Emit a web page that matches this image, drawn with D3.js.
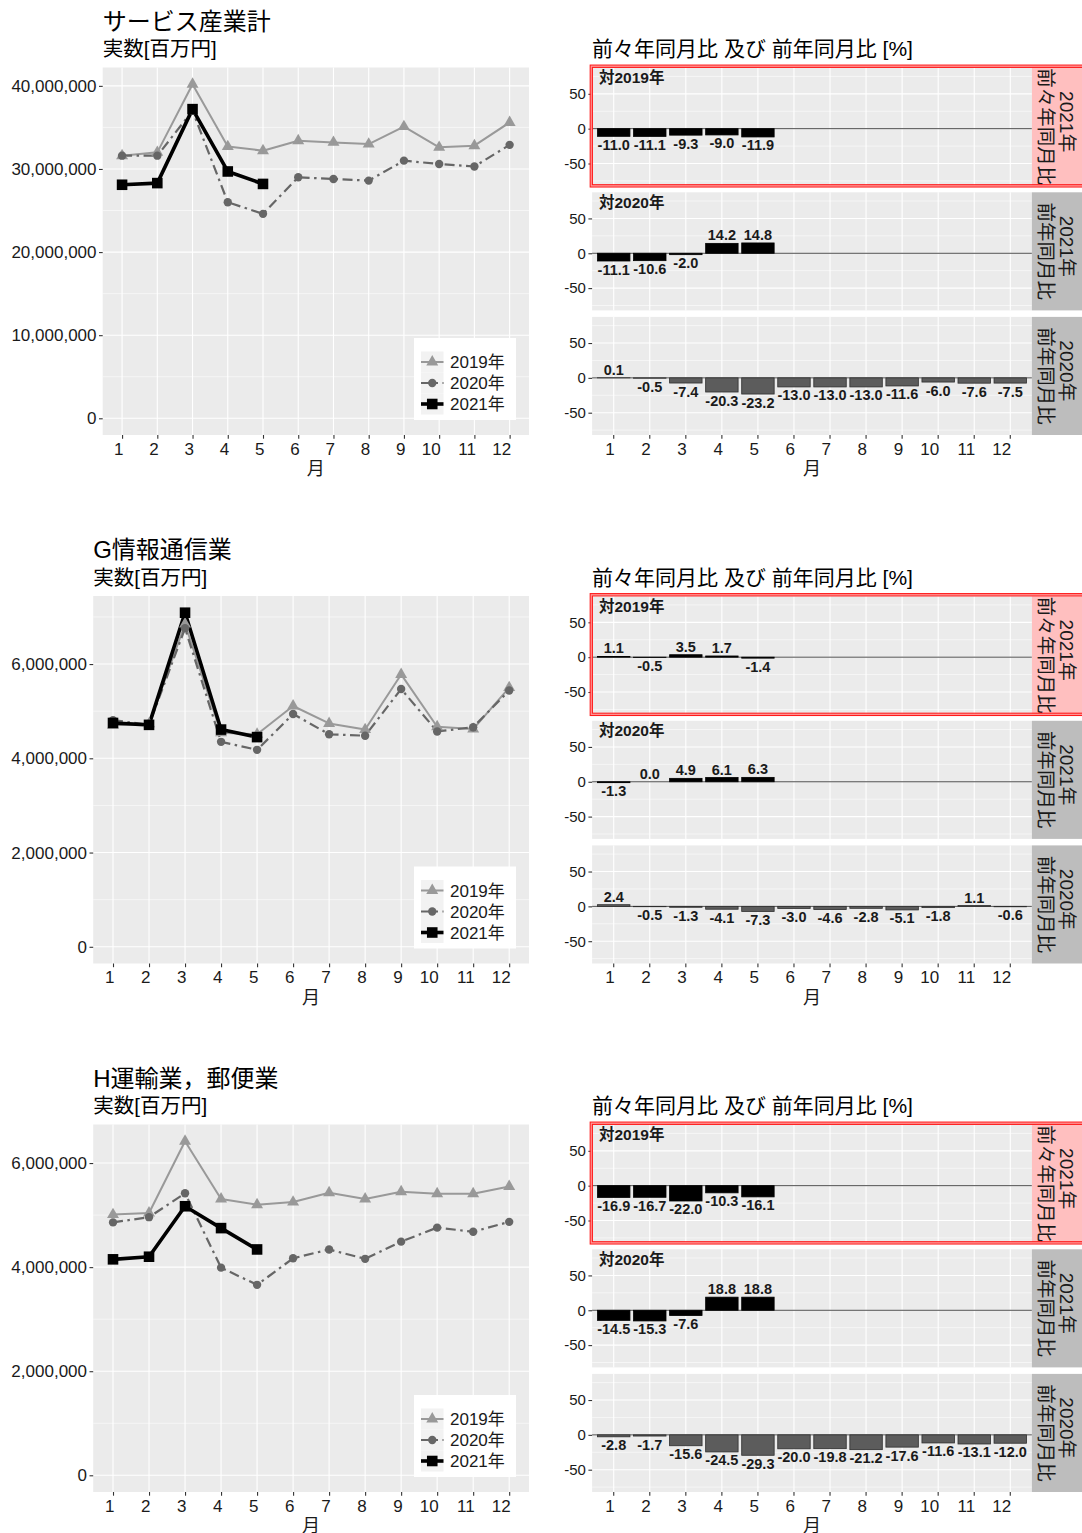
<!DOCTYPE html>
<html lang="ja">
<head>
<meta charset="utf-8">
<title>サービス産業 月次</title>
<script src="https://cdn.jsdelivr.net/npm/d3@7"></script>
<style>
  body { margin: 0; background: #fff; }
  svg { display: block; }
  text { font-family: "Liberation Sans", Arial, "Noto Sans CJK JP", sans-serif; }
</style>
</head>
<body>
<script>
var W = 1082, H = 1533;

var months = [1, 2, 3, 4, 5, 6, 7, 8, 9, 10, 11, 12];
var yearNames = ["2019年", "2020年", "2021年"];
var sectorNames = ["サービス産業計", "G情報通信業", "H運輸業，郵便業"];

// 実数[百万円]
var svc2019 = [31600000, 32000000, 40200000, 32700000, 32200000, 33400000, 33200000, 33000000, 35100000, 32600000, 32800000, 35600000];
var svc2020 = [31600000, 31600000, 37000000, 26000000, 24600000, 29000000, 28800000, 28600000, 31000000, 30600000, 30300000, 32900000];
var svc2021 = [28100000, 28300000, 37200000, 29700000, 28200000];

var ict2019 = [4700000, 4730000, 6850000, 4540000, 4510000, 5110000, 4740000, 4610000, 5780000, 4670000, 4620000, 5500000];
var ict2020 = [4810000, 4710000, 6760000, 4350000, 4180000, 4940000, 4510000, 4480000, 5470000, 4570000, 4660000, 5440000];
var ict2021 = [4750000, 4710000, 7090000, 4610000, 4450000];

var trn2019 = [5010000, 5040000, 6420000, 5310000, 5200000, 5250000, 5430000, 5310000, 5450000, 5410000, 5410000, 5550000];
var trn2020 = [4860000, 4960000, 5420000, 3990000, 3660000, 4170000, 4340000, 4160000, 4490000, 4760000, 4680000, 4870000];
var trn2021 = [4150000, 4200000, 5170000, 4750000, 4340000];

// 前々年同月比 / 前年同月比 [%]
var svcVs2019 = [-11.0, -11.1, -9.3, -9.0, -11.9];
var svcVs2020 = [-11.1, -10.6, -2.0, 14.2, 14.8];
var svcYoy2020 = [0.1, -0.5, -7.4, -20.3, -23.2, -13.0, -13.0, -13.0, -11.6, -6.0, -7.6, -7.5];

var ictVs2019 = [1.1, -0.5, 3.5, 1.7, -1.4];
var ictVs2020 = [-1.3, 0.0, 4.9, 6.1, 6.3];
var ictYoy2020 = [2.4, -0.5, -1.3, -4.1, -7.3, -3.0, -4.6, -2.8, -5.1, -1.8, 1.1, -0.6];

var trnVs2019 = [-16.9, -16.7, -22.0, -10.3, -16.1];
var trnVs2020 = [-14.5, -15.3, -7.6, 18.8, 18.8];
var trnYoy2020 = [-2.8, -1.7, -15.6, -24.5, -29.3, -20.0, -19.8, -21.2, -17.6, -11.6, -13.1, -12.0];

// tick labels
var svcTicks = [0, 10000000, 20000000, 30000000, 40000000];
var ictTicks = [0, 2000000, 4000000, 6000000];
var trnTicks = [0, 2000000, 4000000, 6000000];
var pctTicks = [-50, 0, 50];
var pctMinor = [-75, -25, 25, 75];

var stripYear = ["2021年", "2021年", "2020年"];
var stripKind = ["前々年同月比", "前年同月比", "前年同月比"];
var panelTags = ["対2019年", "対2020年", ""];

var subTitle = "実数[百万円]";
var barTitle = "前々年同月比 及び 前年同月比 [%]";
var xTitle = "月";

// styles
var yearColors = ["#999999", "#666666", "#000000"];
var yearWidths = [2, 2.2, 3.6];
var yearDash = [null, "10,4.5,2.5,4.5", null];
var yearShapes = [d3.symbolTriangle, d3.symbolCircle, d3.symbolSquare];
var yearSizes = [62, 55, 112];

// plain hyphen for negatives, as in the original
var loc = d3.formatLocale({ decimal: ".", thousands: ",", grouping: [3], currency: ["", ""], minus: "-" });
var fmtBig = loc.format(",");
var fmtPct = loc.format(".1f");
var fmtInt = loc.format("d");

var sections = [
  { name: sectorNames[0], series: [svc2019, svc2020, svc2021], ticks: svcTicks, bars: [svcVs2019, svcVs2020, svcYoy2020] },
  { name: sectorNames[1], series: [ict2019, ict2020, ict2021], ticks: ictTicks, bars: [ictVs2019, ictVs2020, ictYoy2020] },
  { name: sectorNames[2], series: [trn2019, trn2020, trn2021], ticks: trnTicks, bars: [trnVs2019, trnVs2020, trnYoy2020] }
];
var offsets = [0, 528.5, 1057];
var lineLefts = [102.7, 93.2, 93.2];

var svg = d3.select("body").append("svg").attr("width", W).attr("height", H);

function styleAxis(g, size) {
    g.select(".domain").remove();
    g.selectAll(".tick line").attr("stroke", "#333").attr("stroke-width", 1.1);
    g.selectAll(".tick text").attr("fill", "#1a1a1a").style("font-size", size + "px");
}

function hline(g, vals, y, x1, x2, w) {
    g.append("g").selectAll("line").data(vals).enter().append("line")
     .attr("x1", x1).attr("x2", x2)
     .attr("y1", function (d) { return y(d); }).attr("y2", function (d) { return y(d); })
     .attr("stroke", "#fff").attr("stroke-width", w);
}

function drawSection(k) {
    var sec = sections[k];
    var off = offsets[k];
    var g = svg.append("g");

    // ---------- line chart ----------
    var left = lineLefts[k], right = 529, top = 67.5 + off, bottom = 435 + off;
    var maxV = d3.max(sec.series, function (s) { return d3.max(s); });
    var y = d3.scaleLinear().domain([-0.05 * maxV, 1.05 * maxV]).range([bottom, top]);
    var x = d3.scaleLinear().domain([0.45, 12.55]).range([left, right]);

    g.append("text").attr("x", left).attr("y", 29.5 + off)
     .style("font-size", "24px").attr("fill", "#000").text(sec.name);
    g.append("text").attr("x", left).attr("y", 56 + off)
     .style("font-size", "20.5px").attr("fill", "#000").text(subTitle);

    g.append("rect").attr("x", left).attr("y", top)
     .attr("width", right - left).attr("height", bottom - top).attr("fill", "#ebebeb");

    var step = sec.ticks[1] - sec.ticks[0];
    var dom = y.domain();
    var minor = sec.ticks.map(function (t) { return t + step / 2; })
                 .concat([sec.ticks[0] - step / 2])
                 .filter(function (v) { return v > dom[0] && v < dom[1]; });
    hline(g, minor, y, left, right, 0.55);
    hline(g, sec.ticks, y, left, right, 1.1);
    g.append("g").selectAll("line").data(months).enter().append("line")
     .attr("x1", function (d) { return x(d); }).attr("x2", function (d) { return x(d); })
     .attr("y1", top).attr("y2", bottom).attr("stroke", "#fff").attr("stroke-width", 1.1);

    var ya = g.append("g").attr("transform", "translate(" + left + ",0)")
              .call(d3.axisLeft(y).tickValues(sec.ticks).tickFormat(fmtBig).tickSize(3.7).tickPadding(2.5));
    styleAxis(ya, 17);
    var xa = g.append("g").attr("transform", "translate(0," + bottom + ")")
              .call(d3.axisBottom(x).tickValues(months).tickFormat(fmtInt).tickSize(3.7).tickPadding(4));
    styleAxis(xa, 17);
    xa.selectAll(".tick text").attr("text-anchor", "end").attr("x", 1);

    g.append("text").attr("x", (left + right) / 2).attr("y", 475 + off)
     .attr("text-anchor", "middle").style("font-size", "18px").attr("fill", "#1a1a1a").text(xTitle);

    var line = d3.line()
                 .x(function (d, i) { return x(months[i]); })
                 .y(function (d) { return y(d); });
    sec.series.forEach(function (s, j) {
        g.append("path").datum(s).attr("d", line)
         .attr("fill", "none").attr("stroke", yearColors[j]).attr("stroke-width", yearWidths[j])
         .attr("stroke-linejoin", "round").attr("stroke-dasharray", yearDash[j]);
    });
    sec.series.forEach(function (s, j) {
        g.append("g").selectAll("path").data(s).enter().append("path")
         .attr("transform", function (d, i) { return "translate(" + x(months[i]) + "," + y(d) + ")"; })
         .attr("d", d3.symbol().type(yearShapes[j]).size(yearSizes[j]))
         .attr("fill", yearColors[j]);
    });

    // legend
    var lgR = right - 13, lgB = bottom - 15, lgW = 102, lgH = 82;
    var lg = g.append("g").attr("transform", "translate(" + (lgR - lgW) + "," + (lgB - lgH) + ")");
    lg.append("rect").attr("width", lgW).attr("height", lgH).attr("fill", "#fff");
    yearNames.forEach(function (name, j) {
        var ky = 13.5 + j * 21;
        lg.append("rect").attr("x", 7).attr("y", ky).attr("width", 22.5).attr("height", 21).attr("fill", "#f2f2f2");
        lg.append("line").attr("x1", 7).attr("x2", 29.5).attr("y1", ky + 10.5).attr("y2", ky + 10.5)
          .attr("stroke", yearColors[j]).attr("stroke-width", yearWidths[j]).attr("stroke-dasharray", yearDash[j]);
        lg.append("path").attr("transform", "translate(18.25," + (ky + 10.5) + ")")
          .attr("d", d3.symbol().type(yearShapes[j]).size(yearSizes[j])).attr("fill", yearColors[j]);
        lg.append("text").attr("x", 36).attr("y", ky + 10.5).attr("dy", "0.36em")
          .style("font-size", "17px").attr("fill", "#1a1a1a").text(name);
    });

    // ---------- bar facets ----------
    var bLeft = 592.1, bRight = 1031.9, stripR = 1082;
    var rowTops = [67.7, 192.3, 316.9], rowH = 118.1;
    var bx = d3.scaleBand().domain(months).range([bLeft, bRight]).paddingInner(0.1).paddingOuter(0.15);

    g.append("text").attr("x", bLeft).attr("y", 56 + off)
     .style("font-size", "21px").attr("fill", "#000").text(barTitle);

    rowTops.forEach(function (rt, r) {
        var t = rt + off, b = t + rowH;
        var by = d3.scaleLinear().domain([-82, 87.5]).range([b, t]);
        var vals = sec.bars[r];

        g.append("rect").attr("x", bLeft).attr("y", t).attr("width", bRight - bLeft).attr("height", rowH).attr("fill", "#ebebeb");
        hline(g, pctMinor, by, bLeft, bRight, 0.55);
        hline(g, pctTicks, by, bLeft, bRight, 1.1);
        g.append("g").selectAll("line").data(months).enter().append("line")
         .attr("x1", function (d) { return bx(d) + bx.bandwidth() / 2; })
         .attr("x2", function (d) { return bx(d) + bx.bandwidth() / 2; })
         .attr("y1", t).attr("y2", b).attr("stroke", "#fff").attr("stroke-width", 1.1);

        g.append("line").attr("x1", bLeft).attr("x2", bRight).attr("y1", by(0)).attr("y2", by(0))
         .attr("stroke", "#4d4d4d").attr("stroke-width", 1);

        g.append("g").selectAll("rect").data(vals).enter().append("rect")
         .attr("x", function (d, i) { return bx(months[i]); })
         .attr("width", bx.bandwidth())
         .attr("y", function (d) { return by(Math.max(d, 0)); })
         .attr("height", function (d) { return Math.abs(by(d) - by(0)); })
         .attr("fill", r < 2 ? "#000" : "#5c5c5c")
         .attr("stroke", r < 2 ? "#000" : "#2e2e2e").attr("stroke-width", 0.8);

        g.append("g").selectAll("text").data(vals).enter().append("text")
         .attr("x", function (d, i) { return bx(months[i]) + bx.bandwidth() / 2; })
         .attr("y", function (d) { return d >= 0 ? by(d) - 3 : by(d) + 13.5; })
         .attr("text-anchor", "middle").style("font-size", "14.5px").style("font-weight", "bold")
         .attr("fill", "#1a1a1a").text(function (d) { return fmtPct(d); });

        if (panelTags[r]) {
            g.append("text").attr("x", 599).attr("y", t + 15.6)
             .style("font-size", "15.5px").style("font-weight", "bold").attr("fill", "#1a1a1a").text(panelTags[r]);
        }

        var ba = g.append("g").attr("transform", "translate(" + bLeft + ",0)")
                  .call(d3.axisLeft(by).tickValues(pctTicks).tickFormat(fmtInt).tickSize(3.7).tickPadding(2.5));
        styleAxis(ba, 15);

        // strip
        g.append("rect").attr("x", bRight).attr("y", t).attr("width", stripR - bRight).attr("height", rowH)
         .attr("fill", r === 0 ? "#ffbfbf" : "#bdbdbd");
        var cy = t + rowH / 2;
        g.append("text").attr("transform", "translate(1066.7," + (cy - 5) + ") rotate(90)")
         .attr("text-anchor", "middle").attr("dy", "0.36em")
         .style("font-size", "19px").attr("fill", "#1a1a1a").text(stripYear[r]);
        g.append("text").attr("transform", "translate(1046.2," + cy + ") rotate(90)")
         .attr("text-anchor", "middle").attr("dy", "0.36em")
         .style("font-size", "19.5px").attr("fill", "#1a1a1a").text(stripKind[r]);

        if (r === 0) {
            g.append("rect").attr("x", 591.2).attr("y", t - 1.5).attr("width", 600).attr("height", rowH + 1.6)
             .attr("fill", "none").attr("stroke", "#ff9a9a").attr("stroke-width", 1.6);
            g.append("rect").attr("x", 590.2).attr("y", t - 2.6).attr("width", 600).attr("height", rowH + 3.8)
             .attr("fill", "none").attr("stroke", "#ff1a1a").attr("stroke-width", 1.1);
            g.append("rect").attr("x", 592.4).attr("y", t - 0.3).attr("width", 600).attr("height", rowH - 0.8)
             .attr("fill", "none").attr("stroke", "#ff1a1a").attr("stroke-width", 1.1);
        }

        if (r === 2) {
            var bxa = g.append("g").attr("transform", "translate(0," + b + ")")
                       .call(d3.axisBottom(bx).tickFormat(fmtInt).tickSize(3.7).tickPadding(4));
            styleAxis(bxa, 17);
            bxa.selectAll(".tick text").attr("text-anchor", "end").attr("x", 1);
        }
    });

    g.append("text").attr("x", (bLeft + bRight) / 2).attr("y", 475 + off)
     .attr("text-anchor", "middle").style("font-size", "18px").attr("fill", "#1a1a1a").text(xTitle);
}

sections.forEach(function (s, k) { drawSection(k); });
</script>
</body>
</html>
